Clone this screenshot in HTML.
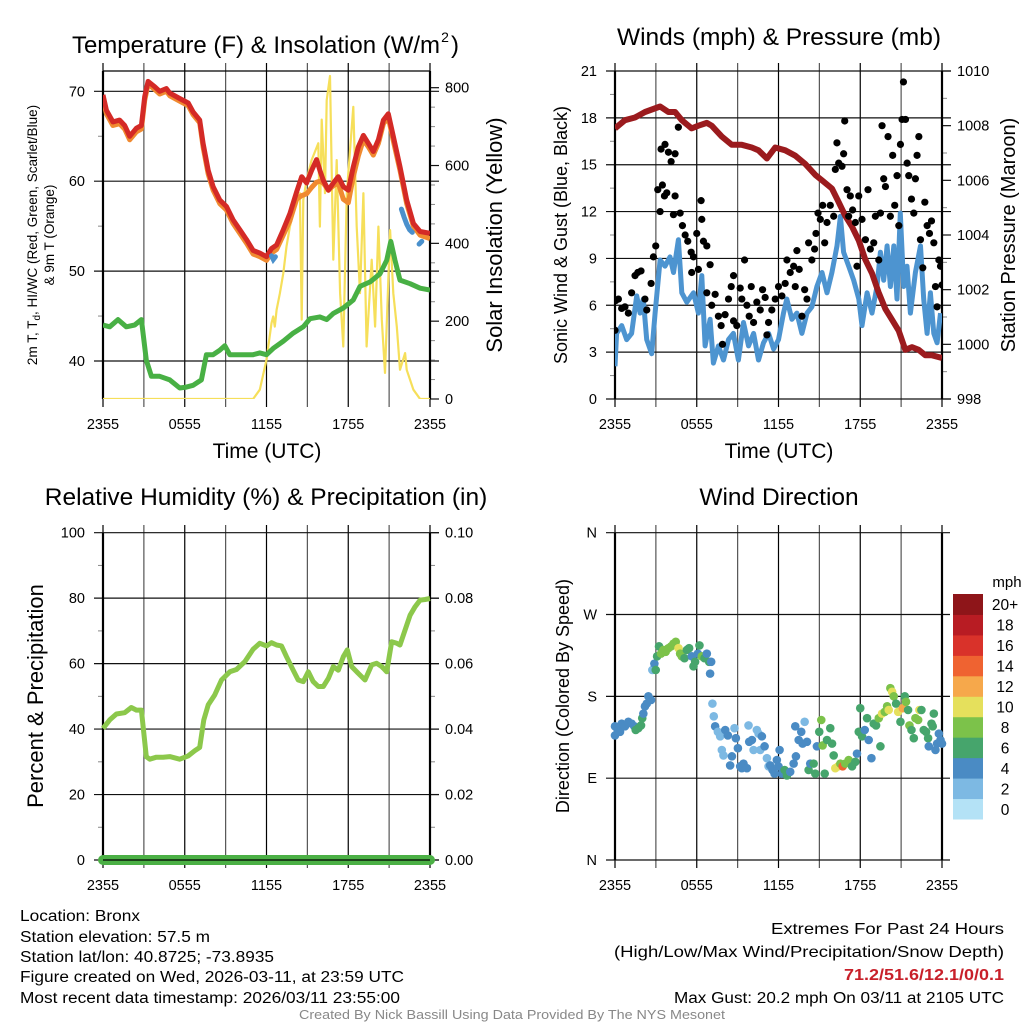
<!DOCTYPE html>
<html><head><meta charset="utf-8"><style>
html,body{margin:0;padding:0;background:#fff;}
svg{display:block;font-family:"Liberation Sans",Arial,sans-serif;}
</style></head><body>
<svg id="chart" xmlns="http://www.w3.org/2000/svg" width="1024" height="1024" viewBox="0 0 1024 1024">
<rect width="1024" height="1024" fill="#fff"/>
</svg>
<script>
// ---------- DATA ----------
const timeTicks = [0,3,6,9,12,15,18,21,24];
const timeLabels = ["2355","","0555","","1155","","1755","","2355"];
// Temperature panel
const tempTime = [0,0.25,0.73,1.22,1.59,1.96,2.45,2.82,3.06,3.31,3.8,4.16,4.65,4.9,5.63,6.25,6.61,7.1,7.35,7.72,8.08,8.57,9.06,9.55,10.04,10.53,11.02,11.51,12.0,12.37,12.74,13.23,13.72,14.21,14.58,14.94,15.31,15.68,15.92,16.17,16.54,16.9,17.27,17.64,18.0,18.37,18.74,19.11,19.48,19.84,20.21,20.58,20.94,21.31,21.8,22.29,22.78,23.27,24];
const tempRed = [69.6,67.9,66.6,66.8,66.2,65.0,65.9,66.2,69.4,71.1,70.5,70.0,70.3,69.8,69.2,68.7,67.7,66.8,64.2,61.2,59.4,57.9,57.2,55.7,54.6,53.5,52.3,52.0,51.6,52.5,52.9,54.6,56.4,58.8,60.5,59.8,61.2,62.4,61.2,60.1,59.0,59.8,60.5,59.4,59.0,61.6,63.8,65.1,64.2,63.3,64.6,66.8,67.5,65.0,61.6,57.9,55.3,54.4,54.2];
const tempOrange = [69.2,67.5,66.2,66.4,65.8,64.6,65.5,65.8,69.0,70.8,70.2,69.7,70.0,69.5,68.9,68.4,67.4,66.5,63.8,60.8,59.0,57.5,56.8,55.3,54.2,53.1,51.9,51.6,51.2,52.0,52.4,54.0,55.6,58.0,58.4,58.6,59.3,59.9,60.0,59.8,59.0,59.5,59.8,58.0,57.6,60.5,62.8,64.6,63.8,62.9,64.2,66.4,67.1,64.5,61.2,57.5,55.0,54.0,53.6];
const dewTime = [0,0.49,1.1,1.71,2.33,2.82,3.18,3.55,4.16,4.9,5.63,6.12,6.61,7.22,7.59,8.08,8.57,8.94,9.31,10.04,11.02,11.51,12.0,12.49,13.23,13.96,14.7,15.19,15.92,16.42,16.9,17.64,18.37,18.86,19.6,20.33,20.82,21.12,21.43,21.8,22.54,23.27,24];
const dewpoint = [44.0,43.8,44.6,43.8,44.0,44.6,40.1,38.3,38.3,37.9,37.0,37.1,37.3,37.9,40.7,40.7,41.2,41.7,40.7,40.7,40.7,40.9,40.7,41.4,42.2,43.1,43.8,44.7,44.9,44.6,45.3,45.9,46.8,48.3,48.8,49.7,51.2,53.3,51.2,49.0,48.6,48.1,47.9];
const wcSeg1Time = [12.37,12.5,12.65]; const wcSeg1 = [51.7,51.3,51.6];
const wcSeg2Time = [21.9,22.1,22.3,22.5,22.7]; const wcSeg2 = [56.9,56.0,55.2,54.6,54.3];
const wcSeg3Time = [23.2,23.4]; const wcSeg3 = [53.0,53.3];
const solarTime = [0,11.02,11.51,12.0,12.37,12.49,12.61,12.74,12.98,13.23,13.47,13.72,13.96,14.21,14.45,14.58,14.7,14.94,15.31,15.8,15.92,16.05,16.29,16.42,16.66,16.9,17.15,17.4,17.64,17.89,18.37,18.62,18.86,19.11,19.35,19.72,19.97,20.21,20.46,20.7,21.07,21.31,21.56,21.8,22.17,22.29,22.78,23.27,24];
const solar = [0,0,24,101,195,212,186,229,272,323,392,443,477,512,529,204,512,563,614,657,443,718,529,768,830,358,614,272,135,529,751,443,272,529,135,358,186,443,204,67,434,272,186,75,118,75,24,0,0];
// Winds panel
const windTime = [0,.12,.49,.86,1.22,1.59,1.84,2.08,2.33,2.69,2.94,3.31,3.67,4.04,4.29,4.65,4.9,5.27,5.76,6.12,6.37,6.61,6.98,7.22,7.59,7.96,8.33,8.69,9.06,9.43,9.8,10.17,10.53,10.9,11.27,11.64,12.0,12.37,12.61,12.98,13.35,13.72,14.09,14.45,14.82,15.19,15.56,15.92,16.29,16.54,16.78,17.15,17.52,17.89,18.13,18.5,18.86,19.23,19.48,19.72,19.97,20.21,20.46,20.7,20.94,21.19,21.43,21.68,22.05,22.42,22.66,22.91,23.15,23.4,23.64,23.89];
const windSpeed = [2.1,4.2,4.7,3.8,4.2,6.6,5.5,6.4,3.8,2.9,5.5,8.9,8.5,9.1,8.1,10.2,6.8,6.2,6.8,5.5,7.9,3.4,5.1,2.3,3.4,2.5,3.8,4.2,2.5,4.9,3.4,4.2,2.5,3.6,4.2,3.2,3.8,5.5,6.4,5.1,5.5,4.2,5.5,5.9,7.2,8.1,6.8,8.1,9.8,11.7,9.4,8.5,7.6,6.4,4.7,6.8,5.5,7.2,9.4,7.6,9.8,7.2,9.8,6.4,11.9,7.2,8.5,5.5,8.1,9.8,6.4,4.2,6.8,4.2,3.6,5.5];
const gusts = [[0,4.4],[.05,6.3],[.25,6.4],[.49,5.8],[.73,5.9],[.98,5.5],[1.22,6.8],[1.47,7.9],[1.67,8.1],[1.91,8.2],[2.2,6.4],[2.33,5.7],[2.65,7.4],[2.82,9.1],[2.99,9.8],[3.14,13.4],[3.31,12.0],[3.48,13.7],[3.63,13.0],[3.8,13.2],[3.38,16.0],[3.67,16.3],[3.92,15.8],[4.12,15.2],[4.41,15.7],[4.65,17.4],[4.41,13.0],[4.29,11.8],[4.78,11.9],[4.95,11.1],[5.15,10.5],[5.34,10.1],[5.59,9.4],[5.76,9.1],[5.63,8.1],[6.0,10.6],[6.12,8.3],[6.32,12.7],[6.37,11.5],[6.49,10.1],[6.74,9.8],[6.98,8.6],[6.74,6.8],[7.1,6.0],[7.35,6.7],[7.59,5.3],[7.79,4.7],[7.89,3.5],[8.08,5.4],[8.33,6.4],[8.53,7.2],[8.7,7.9],[8.7,5.0],[8.94,4.7],[9.19,7.1],[9.31,6.4],[9.51,8.9],[9.68,6.0],[9.85,5.3],[10.0,7.2],[10.17,4.9],[10.41,6.2],[10.66,5.7],[10.83,7.0],[11.02,6.5],[11.15,4.1],[11.27,4.9],[11.51,5.7],[11.76,6.4],[12.0,7.2],[12.25,6.6],[12.49,7.4],[12.62,8.9],[12.86,8.1],[13.11,8.5],[13.23,7.2],[13.35,9.5],[13.52,8.3],[13.72,5.3],[13.92,7.0],[14.09,6.4],[14.21,10.0],[14.45,8.9],[14.65,9.6],[14.75,10.6],[14.9,11.9],[15.07,11.5],[15.24,12.4],[15.39,10.0],[15.56,11.3],[15.8,12.4],[16.05,11.7],[16.17,14.7],[16.29,16.4],[16.42,15.1],[16.66,14.9],[16.78,15.7],[16.86,17.8],[17.03,13.4],[17.15,11.7],[17.27,13.0],[17.44,12.1],[17.64,11.3],[17.76,8.5],[17.89,13.0],[18.13,11.5],[18.38,10.2],[18.57,13.4],[18.74,9.6],[18.99,10.0],[19.11,11.7],[19.36,8.9],[19.48,11.9],[19.6,17.5],[19.72,14.1],[19.85,13.6],[20.04,16.8],[20.21,11.7],[20.38,15.6],[20.53,12.4],[20.7,14.3],[20.83,11.1],[20.95,16.3],[21.07,17.9],[21.17,20.3],[21.32,17.9],[21.44,15.1],[21.56,14.3],[21.76,12.8],[21.93,11.9],[22.05,14.1],[22.17,15.6],[22.3,16.8],[22.42,10.2],[22.59,8.4],[22.74,12.6],[22.91,11.1],[23.08,10.6],[23.23,11.4],[23.4,10.0],[23.52,7.2],[23.64,5.9],[23.77,8.9],[23.89,8.5],[24,7.3]];
const presTime = [0,.73,1.47,2.2,3.31,3.92,4.41,4.9,5.63,6.12,6.74,7.1,7.84,8.57,9.31,10.04,10.53,11.15,11.76,12.49,13.23,13.96,14.7,15.19,15.92,16.42,16.9,17.4,17.89,18.37,18.86,19.35,19.84,20.33,20.82,21.31,21.8,22.29,22.78,23.27,24];
const pressure = [1007.9,1008.2,1008.3,1008.5,1008.7,1008.5,1008.5,1008.2,1007.9,1008.0,1008.1,1008.0,1007.6,1007.3,1007.3,1007.2,1007.1,1006.8,1007.2,1007.1,1006.9,1006.6,1006.2,1006.0,1005.7,1005.2,1004.7,1004.3,1003.8,1003.1,1002.6,1001.9,1001.3,1000.9,1000.5,999.8,999.9,999.8,999.6,999.6,999.5];
// RH panel
const rhTime = [0,.49,.98,1.59,2.08,2.45,2.82,3.18,3.43,3.92,4.41,4.9,5.63,6.25,6.74,7.1,7.4,7.72,8.2,8.7,9.31,9.8,10.41,11.02,11.51,12.0,12.37,12.74,13.1,13.47,13.96,14.33,14.7,15.07,15.43,15.8,16.17,16.54,16.9,17.27,17.64,17.93,18.25,18.74,19.23,19.72,20.09,20.46,20.82,21.19,21.56,21.8,22.17,22.54,22.91,23.27,23.64,24];
const rh = [40.2,42.8,44.6,45,46.6,45.8,45.8,31.6,30.8,31.4,31.4,31.6,30.8,31.8,33.4,34.4,42.8,47.4,50.4,55,57.5,58.2,60.6,64.4,66.2,65.4,66.4,65.7,65.4,62.1,58,55,54.5,57.5,54.5,53,53,55.5,59.1,58,62.1,64.2,59.1,57,55,59.6,60.1,59.1,57.5,66.7,66.2,65.7,70.3,74.8,77.4,79.4,79.6,79.9];
const precipTime = [0,24]; const precip = [0,0];
// Wind direction panel: [time h, direction deg, speed mph]
const dirPts = [[0,147,4],[0,137,4],[.2,143,4],[.37,141,4],[.49,150,4],[.73,147,4],[.98,152,4],[1.22,150,4],[1.42,147,4],[1.52,143,6],[1.71,145,6],[1.91,148,6],[2.0,156,6],[2.08,161,4],[2.2,169,4],[2.33,172,4],[2.45,180,4],[2.65,176,4],[2.74,209,3],[2.89,216,4],[2.99,209,6],[3.09,224,6],[3.23,235,7],[3.38,227,8],[3.55,231,8],[3.72,229,8],[3.92,233,8],[4.12,235,8],[4.29,238,8],[4.46,240,8],[4.66,233,10],[4.78,227,8],[4.9,224,8],[5.1,222,6],[5.27,231,6],[5.44,233,6],[5.64,224,4],[5.76,213,6],[5.88,218,6],[6.08,227,4],[6.2,236,6],[6.37,224,8],[6.57,222,6],[6.74,227,4],[6.91,218,6],[7.06,218,4],[6.98,205,4],[7.15,172,2],[7.25,158,2],[7.35,147,4],[7.55,141,2],[7.72,136,2],[7.84,121,2],[7.96,115,2],[8.09,143,4],[8.28,137,4],[8.45,104,4],[8.58,114,4],[8.77,145,3],[8.87,134,4],[9.02,123,4],[9.19,103,4],[9.31,101,4],[9.43,106,4],[9.68,101,4],[9.8,148,2],[9.85,130,4],[10.05,132,4],[10.17,121,2],[10.41,143,2],[10.54,139,2],[10.66,121,2],[10.78,136,4],[10.98,125,4],[11.15,112,2],[11.27,103,3],[11.39,104,4],[11.56,99,4],[11.71,95,4],[11.88,110,4],[12.0,103,4],[12.08,121,4],[12.25,95,4],[12.45,99,6],[12.62,93,6],[12.86,97,4],[13.11,106,4],[13.28,114,4],[13.23,147,4],[13.48,132,4],[13.67,141,4],[13.77,128,4],[13.92,152,2],[14.09,130,4],[14.21,99,6],[14.33,106,4],[14.58,106,6],[14.7,95,6],[14.82,125,4],[14.99,141,6],[15.14,154,8],[15.24,126,8],[15.39,95,6],[15.56,132,6],[15.8,145,6],[15.93,128,6],[16.05,115,6],[16.17,101,10],[16.37,103,10],[16.54,106,8],[16.71,103,14],[16.9,106,8],[17.15,110,8],[17.4,103,6],[17.64,108,6],[17.76,117,4],[17.89,141,6],[18.0,167,6],[18.13,136,6],[18.33,143,4],[18.5,156,6],[18.62,132,4],[18.82,112,4],[18.99,150,6],[19.16,148,6],[19.36,156,8],[19.48,125,6],[19.6,161,10],[19.8,163,8],[19.97,169,8],[20.09,165,10],[20.21,189,8],[20.34,185,10],[20.46,180,8],[20.63,172,6],[20.78,163,10],[20.95,152,6],[21.12,167,12],[21.27,180,6],[21.36,174,8],[21.51,165,6],[21.61,148,8],[21.76,143,6],[21.93,134,6],[22.05,156,8],[22.25,154,8],[22.34,165,10],[22.49,165,6],[22.66,143,6],[22.83,141,6],[22.98,134,6],[23.03,125,4],[23.23,150,6],[23.32,147,6],[23.4,161,6],[23.52,121,4],[23.64,128,4],[23.77,139,4],[23.89,132,4],[24,128,4]];
const cbarLabels = ["0","2","4","6","8","10","12","14","16","18","20+"];
const cbarColors = ["#b4e2f6","#7db9e3","#4a8bc4","#46a56c","#7cc24a","#e5e05c","#f6a84b","#ef6331","#d9322a","#b81c23","#8e1519"];

// ---------- HELPERS ----------
const NS="http://www.w3.org/2000/svg";
const svg=document.getElementById('chart');
function mk(tag,attrs,parent){const e=document.createElementNS(NS,tag);for(const k in attrs)e.setAttribute(k,attrs[k]);(parent||svg).appendChild(e);return e;}
function txt(s,x,y,size,opts,parent){opts=opts||{};const e=mk('text',{x:x,y:y,'font-size':size,'text-anchor':opts.anchor||'middle',fill:opts.fill||'#000'},parent);if(opts.rot)e.setAttribute('transform','rotate(-90 '+x+' '+y+')');if(opts.weight)e.setAttribute('font-weight',opts.weight);if(opts.len){e.setAttribute('textLength',opts.len);e.setAttribute('lengthAdjust','spacingAndGlyphs');}e.textContent=s;return e;}
function scale(d0,d1,r0,r1){return v=>r0+(v-d0)*(r1-r0)/(d1-d0);}
function pathFrom(ts,vs,xs,ys){let d='';for(let i=0;i<ts.length;i++){d+=(i?'L':'M')+xs(ts[i]).toFixed(1)+','+ys(vs[i]).toFixed(1);}return d;}
function speedColor(s){let i=Math.floor(s/2);if(i>10)i=10;if(i<0)i=0;return cbarColors[i];}

function frame(g,L,R,T,B,xs,yTicks,ys,yLabels,rightTicks,rs,rLabels,minorL,minorR,gridRight){
  timeTicks.forEach((t,i)=>{const x=xs(t);const l=mk('line',{x1:x,y1:T-8,x2:x,y2:B+8,stroke:(i%2?'#555':'#000'),'stroke-width':1.2},g);
    
    if(timeLabels[i]){const lb=txt(timeLabels[i],x,B+30,14.5,{},g);}});
  yTicks.forEach((v,i)=>{const y=ys(v);const l=mk('line',{x1:L-9,y1:y,x2:gridRight||R+9,y2:y,stroke:'#111','stroke-width':1.2},g);
    
    const lb=txt(yLabels[i],L-18,y+5,14.5,{anchor:'end'},g);});
  (minorL||[]).forEach(v=>{mk('line',{x1:L-5,y1:ys(v),x2:L,y2:ys(v),stroke:'#888','stroke-width':1},g);});
  if(rightTicks){rightTicks.forEach((v,i)=>{const y=rs(v);mk('line',{x1:R,y1:y,x2:R+9,y2:y,stroke:'#111','stroke-width':1.2},g);
    const lb=txt(rLabels[i],R+15,y+5,14.5,{anchor:'start'},g);});
    (minorR||[]).forEach(v=>{mk('line',{x1:R,y1:rs(v),x2:R+5,y2:rs(v),stroke:'#888','stroke-width':1},g);});}
  mk('line',{x1:L,y1:T,x2:L,y2:B,stroke:'#000','stroke-width':2.2},g);
  mk('line',{x1:R,y1:T,x2:R,y2:B,stroke:'#000','stroke-width':2.2},g);
}

// ---------- PANEL 1: Temperature ----------
(function(){
const g=mk('g',{});
const L=103,R=430,T=71,B=399;
const xs=scale(0,24,L,R), ys=scale(40,70,361,91.3), ss=scale(0,800,399,87.7);
frame(g,L,R,T,B,xs,[40,50,60,70],ys,["40","50","60","70"],[0,200,400,600,800],ss,["0","200","400","600","800"],[45,55,65],[50,100,150,250,300,350,450,500,550,650,700,750]);
mk('line',{x1:L,y1:T,x2:R,y2:T,stroke:'#000','stroke-width':1.2},g);
const clip=mk('clipPath',{id:'c1'},g);mk('rect',{x:L,y:T,width:R-L,height:B-T},clip);
const pg=mk('g',{'clip-path':'url(#c1)'},g);
let p=mk('path',{d:pathFrom(solarTime,solar,xs,ss),fill:'none',stroke:'#f6df5a','stroke-width':2.2,'stroke-linejoin':'round'},pg);
p=mk('path',{d:pathFrom(dewTime,dewpoint,xs,ys),fill:'none',stroke:'#48b044','stroke-width':5,'stroke-linejoin':'round'},pg);
p=mk('path',{d:pathFrom(tempTime,tempOrange,xs,ys),fill:'none',stroke:'#f08a30','stroke-width':5,'stroke-linejoin':'round'},pg);
p=mk('path',{d:pathFrom(tempTime,tempRed,xs,ys),fill:'none',stroke:'#d42a26','stroke-width':5,'stroke-linejoin':'round'},pg);
[[wcSeg1Time,wcSeg1],[wcSeg2Time,wcSeg2],[wcSeg3Time,wcSeg3]].forEach(s=>{const q=mk('path',{d:pathFrom(s[0],s[1],xs,ys),fill:'none',stroke:'#4a90cc','stroke-width':5,'stroke-linecap':'round'},pg);});
let t=txt('Temperature (F) & Insolation (W/m',256,53,24,{},g);
const tb=t.getBBox();txt('2',tb.x+tb.width+5,42,14,{},g);txt(')',tb.x+tb.width+15,53,24,{},g);
t=txt('',37,235,13.5,{rot:1},g);
t.innerHTML='2m T, T<tspan font-size="10" dy="3">d</tspan><tspan dy="-3">, HI/WC (Red, Green, Scarlet/Blue)</tspan>';
t=txt('& 9m T (Orange)',54,235,13.5,{rot:1},g);
t=txt('Solar Insolation (Yellow)',502,235,22,{rot:1},g);
t=txt('Time (UTC)',267,458,21,{},g);
})();

// ---------- PANEL 2: Winds ----------
(function(){
const g=mk('g',{});
const L=615,R=942,T=71,B=399;
const xs=scale(0,24,L,R), ys=scale(0,21,399,71), ps=scale(998,1010,399,71);
frame(g,L,R,T,B,xs,[0,3,6,9,12,15,18,21],ys,["0","3","6","9","12","15","18","21"],[998,1000,1002,1004,1006,1008,1010],ps,["998","1000","1002","1004","1006","1008","1010"],[1.5,4.5,7.5,10.5,13.5,16.5,19.5],[999,1001,1003,1005,1007,1009]);
const clip=mk('clipPath',{id:'c2'},g);mk('rect',{x:L,y:T-3,width:R-L,height:B-T+3},clip);
const pg=mk('g',{'clip-path':'url(#c2)'},g);
let p=mk('path',{d:pathFrom(windTime,windSpeed,xs,ys),fill:'none',stroke:'#4d94d0','stroke-width':5,'stroke-linejoin':'round'},pg);
p=mk('path',{d:pathFrom(presTime,pressure,xs,ps),fill:'none',stroke:'#9b1b1e','stroke-width':6,'stroke-linejoin':'round'},pg);
gusts.forEach(d=>{const c=mk('circle',{cx:xs(d[0]),cy:ys(d[1]),r:3.6,fill:'#000'},pg);

});
let t=txt('Winds (mph) & Pressure (mb)',779,45,24.5,{},g);
t=txt('Sonic Wind & Gust (Blue, Black)',567,235,18,{rot:1},g);
t=txt('Station Pressure (Maroon)',1015,235,20,{rot:1},g);
t=txt('Time (UTC)',779,458,21,{},g);
})();

// ---------- PANEL 3: RH ----------
(function(){
const g=mk('g',{});
const L=103,R=430,T=533,B=860;
const xs=scale(0,24,L,R), ys=scale(0,100,860,532.7), ps=scale(0,0.1,860,532.7);
frame(g,L,R,T,B,xs,[0,20,40,60,80,100],ys,["0","20","40","60","80","100"],[0,.02,.04,.06,.08,.1],ps,["0.00","0.02","0.04","0.06","0.08","0.10"],[10,30,50,70,90],[.01,.03,.05,.07,.09]);
let p=mk('path',{d:pathFrom(rhTime,rh,xs,ys),fill:'none',stroke:'#8cc84b','stroke-width':5,'stroke-linejoin':'round'},g);
p=mk('path',{d:pathFrom(precipTime,precip,xs,ps),fill:'none',stroke:'#4bb045','stroke-width':10,'stroke-linecap':'round'},g);
mk('line',{x1:L,y1:B,x2:R,y2:B,stroke:'#000','stroke-width':1.2},g);
let t=txt('Relative Humidity (%) & Precipitation (in)',266,505,24.5,{},g);
t=txt('Percent & Precipitation',43,696,22,{rot:1},g);
})();

// ---------- PANEL 4: Wind direction ----------
(function(){
const g=mk('g',{});
const L=615,R=942,T=533,B=860;
const xs=scale(0,24,L,R), ys=scale(0,360,860,532.7);
frame(g,L,R,T,B,xs,[0,90,180,270,360],ys,["N","E","S","W","N"],null,null,null,null,null,950);
dirPts.forEach(d=>{const c=mk('circle',{cx:xs(d[0]),cy:ys(d[1]),r:4.3,fill:speedColor(d[2])},g);

});
let t=txt('Wind Direction',779,505,24.5,{},g);
t=txt('Direction (Colored By Speed)',569,696,18,{rot:1},g);
const cb=mk('g',{},g);
const top=594,bot=819,h=(bot-top)/cbarColors.length;
cbarColors.forEach((c,i)=>{const y=bot-(i+1)*h;mk('rect',{x:953,y:y,width:30,height:h+0.5,fill:c},cb);
const lb=txt(cbarLabels[i],1005,y+h/2+6,15.5,{},cb);});
t=txt('mph',1007,587,15,{},cb);
})();

// ---------- FOOTER ----------
(function(){
const g=mk('g',{});
const left=[["Location: Bronx",921,120],["Station elevation: 57.5 m",942,190],["Station lat/lon: 40.8725; -73.8935",962,254],["Figure created on Wed, 2026-03-11, at 23:59 UTC",982,384],["Most recent data timestamp: 2026/03/11 23:55:00",1003,380]];
left.forEach(l=>{const t=txt(l[0],20,l[1],15.5,{anchor:'start',len:l[2]},g);});
let t=txt('Extremes For Past 24 Hours',1004,934,16,{anchor:'end',len:233},g);
t=txt('(High/Low/Max Wind/Precipitation/Snow Depth)',1004,957,16,{anchor:'end',len:390},g);
t=txt('71.2/51.6/12.1/0/0.1',1004,980,16,{anchor:'end',len:160,fill:'#c8202a',weight:'bold'},g);
t=txt('Max Gust: 20.2 mph On 03/11 at 2105 UTC',1004,1003,15.5,{anchor:'end',len:330},g);
t=txt('Created By Nick Bassill Using Data Provided By The NYS Mesonet',512,1019,12.5,{fill:'#888',len:426},g);
})();
</script>
</body></html>
